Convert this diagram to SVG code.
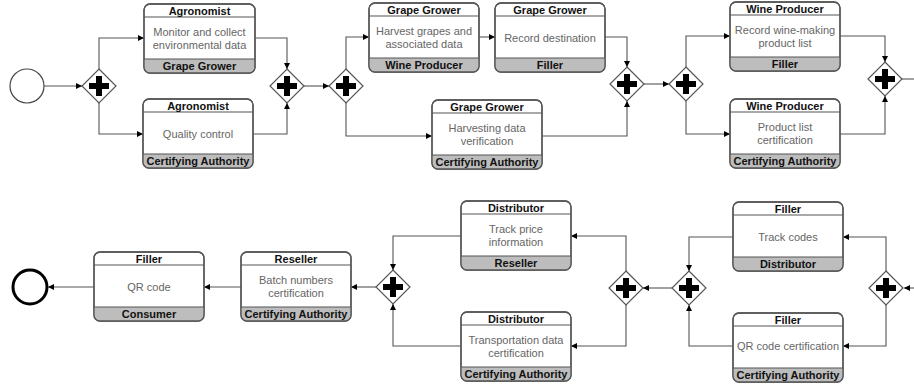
<svg xmlns="http://www.w3.org/2000/svg" width="914" height="391" viewBox="0 0 914 391">
<defs>
<style>
.box{fill:#fff;stroke:#555;stroke-width:1.3}
.ft{fill:#bdbdbd}
.sep{stroke:#555;stroke-width:1.1}
.hd{font-family:"Liberation Sans",Arial,sans-serif;font-size:11px;font-weight:bold;fill:#111;text-anchor:middle}
.bd{font-family:"Liberation Sans",Arial,sans-serif;font-size:11px;fill:#666;text-anchor:middle}
.gw{fill:#fff;stroke:#555;stroke-width:1.2}
.c{fill:none;stroke:#555;stroke-width:1.1;marker-end:url(#ah)}
.cn{fill:none;stroke:#555;stroke-width:1.1}
</style>
<marker id="ah" markerUnits="userSpaceOnUse" markerWidth="7" markerHeight="7" refX="6" refY="3" orient="auto">
<path d="M0,0 L6,3 L0,6 z" fill="#000"/>
</marker>
<clipPath id="cl"><rect x="0" y="0" width="110" height="69" rx="6"/></clipPath>
<g id="plus"><rect x="-10" y="-3" width="20" height="6" fill="#000"/><rect x="-3" y="-10" width="6" height="20" fill="#000"/></g>
</defs>

<g id="start"><circle cx="27" cy="86" r="17" fill="#fff" stroke="#444" stroke-width="1.2"/></g>
<g id="end"><circle cx="30" cy="287" r="17" fill="#fff" stroke="#000" stroke-width="3"/></g>

<g id="connectors">
<path class="c" d="M44,86 H82"/>
<path class="c" d="M99,69 V38 H144"/>
<path class="c" d="M99,103 V134 H143"/>
<path class="c" d="M255,38 H287 V69"/>
<path class="c" d="M253,134 H287 V103"/>
<path class="c" d="M304,86 H329"/>
<path class="c" d="M346,69 V37 H369"/>
<path class="c" d="M346,103 V136 H432"/>
<path class="c" d="M479,37 H495"/>
<path class="c" d="M605,37 H627 V67"/>
<path class="c" d="M542,136 H627 V101"/>
<path class="c" d="M644,84 H669"/>
<path class="c" d="M686,67 V36 H730"/>
<path class="c" d="M686,101 V134 H730"/>
<path class="c" d="M840,36 H885 V62"/>
<path class="c" d="M840,134 H885 V96"/>
<path class="cn" d="M902,79 H914"/>

<path class="c" d="M914,288 H904"/>
<path class="c" d="M886,271 V237 H843"/>
<path class="c" d="M886,305 V346 H843"/>
<path class="c" d="M733,237 H689 V271"/>
<path class="c" d="M733,346 H689 V305"/>
<path class="c" d="M672,288 H643"/>
<path class="c" d="M626,271 V236 H571"/>
<path class="c" d="M626,305 V346 H571"/>
<path class="c" d="M461,236 H393 V270"/>
<path class="c" d="M461,346 H393 V304"/>
<path class="c" d="M376,287 H351"/>
<path class="c" d="M241,287 H204"/>
<path class="c" d="M94,287 H48"/>
</g>

<g id="gw1" transform="translate(99,86)"><path class="gw" d="M0,-17 L17,0 L0,17 L-17,0 Z"/><use href="#plus"/></g>
<g id="gw2" transform="translate(287,86)"><path class="gw" d="M0,-17 L17,0 L0,17 L-17,0 Z"/><use href="#plus"/></g>
<g id="gw3" transform="translate(346,86)"><path class="gw" d="M0,-17 L17,0 L0,17 L-17,0 Z"/><use href="#plus"/></g>
<g id="gw4" transform="translate(627,84)"><path class="gw" d="M0,-17 L17,0 L0,17 L-17,0 Z"/><use href="#plus"/></g>
<g id="gw5" transform="translate(686,84)"><path class="gw" d="M0,-17 L17,0 L0,17 L-17,0 Z"/><use href="#plus"/></g>
<g id="gw6" transform="translate(885,79)"><path class="gw" d="M0,-17 L17,0 L0,17 L-17,0 Z"/><use href="#plus"/></g>
<g id="gwA" transform="translate(886,288)"><path class="gw" d="M0,-17 L17,0 L0,17 L-17,0 Z"/><use href="#plus"/></g>
<g id="gwB" transform="translate(689,288)"><path class="gw" d="M0,-17 L17,0 L0,17 L-17,0 Z"/><use href="#plus"/></g>
<g id="gwC" transform="translate(626,288)"><path class="gw" d="M0,-17 L17,0 L0,17 L-17,0 Z"/><use href="#plus"/></g>
<g id="gwD" transform="translate(393,287)"><path class="gw" d="M0,-17 L17,0 L0,17 L-17,0 Z"/><use href="#plus"/></g>

<g id="t1" transform="translate(144,4)">
<rect class="box" width="111" height="69" rx="6"/>
<rect class="ft" x="0" y="55" width="111" height="14" clip-path="url(#cl)"/>
<rect class="box" width="111" height="69" rx="6" fill="none" style="fill:none"/>
<line class="sep" x1="0" y1="13" x2="111" y2="13"/><line class="sep" x1="0" y1="55" x2="111" y2="55"/>
<text class="hd" x="55.5" y="11">Agronomist</text>
<text class="bd" x="55.5" y="32">Monitor and collect</text>
<text class="bd" x="55.5" y="45">environmental data</text>
<text class="hd" x="55.5" y="66">Grape Grower</text>
</g>

<g id="t2" transform="translate(143,99)">
<rect class="box" width="110" height="69" rx="6"/>
<rect class="ft" x="0" y="55" width="110" height="14" clip-path="url(#cl)"/>
<rect class="box" width="110" height="69" rx="6" style="fill:none"/>
<line class="sep" x1="0" y1="13" x2="110" y2="13"/><line class="sep" x1="0" y1="55" x2="110" y2="55"/>
<text class="hd" x="55" y="11">Agronomist</text>
<text class="bd" x="55" y="39">Quality control</text>
<text class="hd" x="55" y="66">Certifying Authority</text>
</g>

<g id="t3" transform="translate(369,3)">
<rect class="box" width="110" height="69" rx="6"/>
<rect class="ft" x="0" y="55" width="110" height="14" clip-path="url(#cl)"/>
<rect class="box" width="110" height="69" rx="6" style="fill:none"/>
<line class="sep" x1="0" y1="13" x2="110" y2="13"/><line class="sep" x1="0" y1="55" x2="110" y2="55"/>
<text class="hd" x="55" y="11">Grape Grower</text>
<text class="bd" x="55" y="32">Harvest grapes and</text>
<text class="bd" x="55" y="45">associated data</text>
<text class="hd" x="55" y="66">Wine Producer</text>
</g>

<g id="t4" transform="translate(495,3)">
<rect class="box" width="110" height="69" rx="6"/>
<rect class="ft" x="0" y="55" width="110" height="14" clip-path="url(#cl)"/>
<rect class="box" width="110" height="69" rx="6" style="fill:none"/>
<line class="sep" x1="0" y1="13" x2="110" y2="13"/><line class="sep" x1="0" y1="55" x2="110" y2="55"/>
<text class="hd" x="55" y="11">Grape Grower</text>
<text class="bd" x="55" y="39">Record destination</text>
<text class="hd" x="55" y="66">Filler</text>
</g>

<g id="t5" transform="translate(432,100)">
<rect class="box" width="110" height="69" rx="6"/>
<rect class="ft" x="0" y="55" width="110" height="14" clip-path="url(#cl)"/>
<rect class="box" width="110" height="69" rx="6" style="fill:none"/>
<line class="sep" x1="0" y1="13" x2="110" y2="13"/><line class="sep" x1="0" y1="55" x2="110" y2="55"/>
<text class="hd" x="55" y="11">Grape Grower</text>
<text class="bd" x="55" y="32">Harvesting data</text>
<text class="bd" x="55" y="45">verification</text>
<text class="hd" x="55" y="66">Certifying Authority</text>
</g>

<g id="t6" transform="translate(730,2)">
<rect class="box" width="110" height="69" rx="6"/>
<rect class="ft" x="0" y="55" width="110" height="14" clip-path="url(#cl)"/>
<rect class="box" width="110" height="69" rx="6" style="fill:none"/>
<line class="sep" x1="0" y1="13" x2="110" y2="13"/><line class="sep" x1="0" y1="55" x2="110" y2="55"/>
<text class="hd" x="55" y="11">Wine Producer</text>
<text class="bd" x="55" y="32">Record wine-making</text>
<text class="bd" x="55" y="45">product list</text>
<text class="hd" x="55" y="66">Filler</text>
</g>

<g id="t7" transform="translate(730,99)">
<rect class="box" width="110" height="69" rx="6"/>
<rect class="ft" x="0" y="55" width="110" height="14" clip-path="url(#cl)"/>
<rect class="box" width="110" height="69" rx="6" style="fill:none"/>
<line class="sep" x1="0" y1="13" x2="110" y2="13"/><line class="sep" x1="0" y1="55" x2="110" y2="55"/>
<text class="hd" x="55" y="11">Wine Producer</text>
<text class="bd" x="55" y="32">Product list</text>
<text class="bd" x="55" y="45">certification</text>
<text class="hd" x="55" y="66">Certifying Authority</text>
</g>

<g id="t8" transform="translate(733,202)">
<rect class="box" width="110" height="69" rx="6"/>
<rect class="ft" x="0" y="55" width="110" height="14" clip-path="url(#cl)"/>
<rect class="box" width="110" height="69" rx="6" style="fill:none"/>
<line class="sep" x1="0" y1="13" x2="110" y2="13"/><line class="sep" x1="0" y1="55" x2="110" y2="55"/>
<text class="hd" x="55" y="11">Filler</text>
<text class="bd" x="55" y="39">Track codes</text>
<text class="hd" x="55" y="66">Distributor</text>
</g>

<g id="t9" transform="translate(733,313)">
<rect class="box" width="110" height="69" rx="6"/>
<rect class="ft" x="0" y="55" width="110" height="14" clip-path="url(#cl)"/>
<rect class="box" width="110" height="69" rx="6" style="fill:none"/>
<line class="sep" x1="0" y1="13" x2="110" y2="13"/><line class="sep" x1="0" y1="55" x2="110" y2="55"/>
<text class="hd" x="55" y="11">Filler</text>
<text class="bd" x="55" y="37">QR code certification</text>
<text class="hd" x="55" y="66">Certifying Authority</text>
</g>

<g id="t10" transform="translate(461,201)">
<rect class="box" width="110" height="69" rx="6"/>
<rect class="ft" x="0" y="55" width="110" height="14" clip-path="url(#cl)"/>
<rect class="box" width="110" height="69" rx="6" style="fill:none"/>
<line class="sep" x1="0" y1="13" x2="110" y2="13"/><line class="sep" x1="0" y1="55" x2="110" y2="55"/>
<text class="hd" x="55" y="11">Distributor</text>
<text class="bd" x="55" y="32">Track price</text>
<text class="bd" x="55" y="45">information</text>
<text class="hd" x="55" y="66">Reseller</text>
</g>

<g id="t11" transform="translate(461,312)">
<rect class="box" width="110" height="69" rx="6"/>
<rect class="ft" x="0" y="55" width="110" height="14" clip-path="url(#cl)"/>
<rect class="box" width="110" height="69" rx="6" style="fill:none"/>
<line class="sep" x1="0" y1="13" x2="110" y2="13"/><line class="sep" x1="0" y1="55" x2="110" y2="55"/>
<text class="hd" x="55" y="11">Distributor</text>
<text class="bd" x="55" y="32">Transportation data</text>
<text class="bd" x="55" y="45">certification</text>
<text class="hd" x="55" y="66">Certifying Authority</text>
</g>

<g id="t12" transform="translate(241,252)">
<rect class="box" width="110" height="69" rx="6"/>
<rect class="ft" x="0" y="55" width="110" height="14" clip-path="url(#cl)"/>
<rect class="box" width="110" height="69" rx="6" style="fill:none"/>
<line class="sep" x1="0" y1="13" x2="110" y2="13"/><line class="sep" x1="0" y1="55" x2="110" y2="55"/>
<text class="hd" x="55" y="11">Reseller</text>
<text class="bd" x="55" y="32">Batch numbers</text>
<text class="bd" x="55" y="45">certification</text>
<text class="hd" x="55" y="66">Certifying Authority</text>
</g>

<g id="t13" transform="translate(94,252)">
<rect class="box" width="110" height="69" rx="6"/>
<rect class="ft" x="0" y="55" width="110" height="14" clip-path="url(#cl)"/>
<rect class="box" width="110" height="69" rx="6" style="fill:none"/>
<line class="sep" x1="0" y1="13" x2="110" y2="13"/><line class="sep" x1="0" y1="55" x2="110" y2="55"/>
<text class="hd" x="55" y="11">Filler</text>
<text class="bd" x="55" y="39">QR code</text>
<text class="hd" x="55" y="66">Consumer</text>
</g>
</svg>
